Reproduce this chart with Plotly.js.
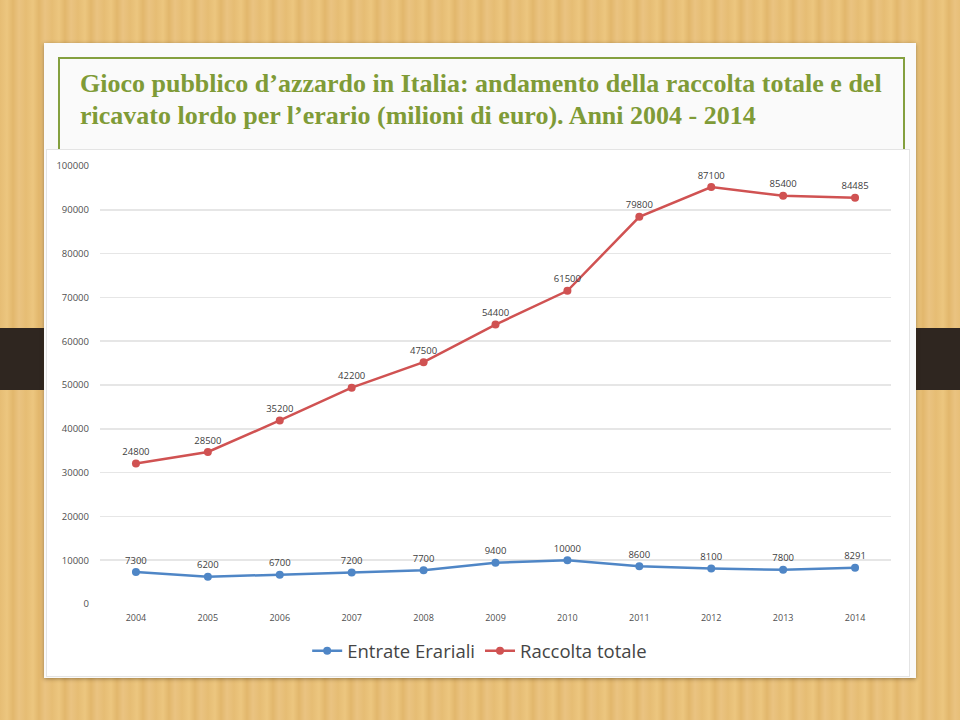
<!DOCTYPE html>
<html><head><meta charset="utf-8">
<script src="https://cdn.plot.ly/plotly-3.0.1.min.js"></script>
<style>
html,body{margin:0;padding:0;width:960px;height:720px;overflow:hidden;}
body{position:relative;background:repeating-linear-gradient(90deg,#e6bd74 0px,#ecc67f 7px,#e2b76c 13px,#eac381 19px,#e6bd74 26px);}
#band{position:absolute;left:0;top:328px;width:960px;height:62px;background:#2f2620;}
#card{position:absolute;left:44px;top:43px;width:872px;height:635px;background:#fafafa;box-shadow:0 1px 4px rgba(60,40,10,0.45);}
#tbox{position:absolute;left:58px;top:57px;width:843px;height:110px;border:2px solid #84a03f;border-bottom:none;}
#title{position:absolute;left:80px;top:68px;width:840px;font-family:"Liberation Serif",serif;font-weight:bold;font-size:26px;line-height:32px;color:#7f9b37;white-space:nowrap;}
#chartwrap{position:absolute;left:46px;top:149px;width:862px;height:526px;background:#fff;border:1px solid #e4e4e4;}
#chart{position:absolute;left:0;top:0;width:862px;height:526px;}
</style></head>
<body>
<div id="band"></div>
<div id="card"></div>
<div id="tbox"></div>
<div id="title">Gioco pubblico d’azzardo in Italia: andamento della raccolta totale e del<br>ricavato lordo per l’erario (milioni di euro). Anni 2004 - 2014</div>
<div id="chartwrap"><div id="chart"></div></div>
<script>
const years = ['2004','2005','2006','2007','2008','2009','2010','2011','2012','2013','2014'];
const entrateErariali = [7300,6200,6700,7200,7700,9400,10000,8600,8100,7800,8291];
const raccoltaTotale = [24800,28500,35200,42200,47500,54400,61500,79800,87100,85400,84485];
const yTicks = [0,10000,20000,30000,40000,50000,60000,70000,80000,90000,100000];

const labelFont = {family:'Open Sans, sans-serif',size:9.5,color:'#404040'};
const traces = [
 {x:years,y:entrateErariali,name:'Entrate Erariali',stackgroup:'one',fill:'none',
  mode:'lines+markers+text',text:entrateErariali.map(String),textposition:'top center',
  textfont:labelFont,line:{color:'#4f86c6',width:2.5},marker:{color:'#4f86c6',size:8},cliponaxis:false},
 {x:years,y:raccoltaTotale,name:'Raccolta totale',stackgroup:'one',fill:'none',
  mode:'lines+markers+text',text:raccoltaTotale.map(String),textposition:'top center',
  textfont:labelFont,line:{color:'#d05252',width:2.5},marker:{color:'#d05252',size:8},cliponaxis:false}
];
const layout = {
 width:862,height:526,
 margin:{l:53,r:18,t:16,b:72,autoexpand:false},
 paper_bgcolor:'rgba(0,0,0,0)',plot_bgcolor:'rgba(0,0,0,0)',
 showlegend:true,
 legend:{orientation:'h',x:0.48,xanchor:'center',y:-0.108,yanchor:'middle',
   font:{family:'Open Sans, sans-serif',size:18.5,color:'#454545'}},
 xaxis:{type:'category',range:[-0.5,10.5],showgrid:false,zeroline:false,showline:false,
   ticks:'',tickfont:{family:'Open Sans, sans-serif',size:9,color:'#505050'},ticklabelstandoff:7},
 yaxis:{range:[0,100000],tickvals:yTicks,ticktext:yTicks.map(String),showgrid:true,gridcolor:'#e6e6e6',gridwidth:1.5,
   zeroline:false,showline:false,ticks:'',tickfont:{family:'Open Sans, sans-serif',size:9.5,color:'#505050'},ticklabelstandoff:10}
};
Plotly.newPlot('chart',traces,layout,{displayModeBar:false,staticPlot:true});
</script>
</body></html>
